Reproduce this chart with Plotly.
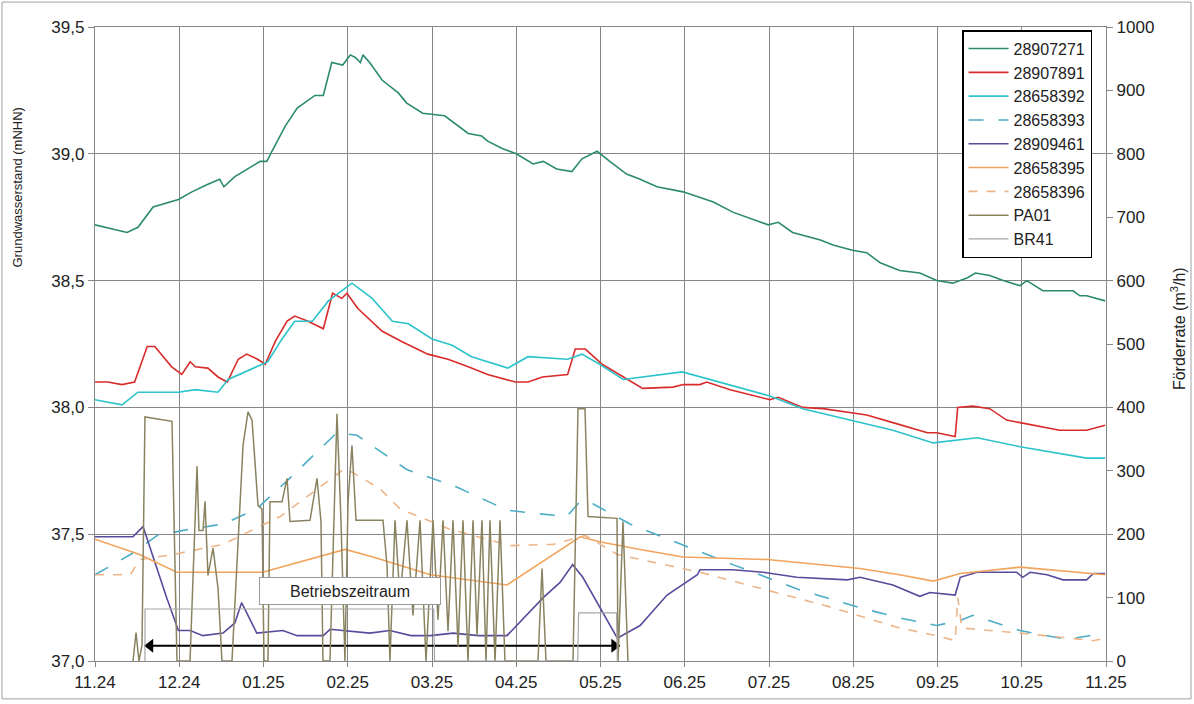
import plotly.graph_objects as go

# Monatsachse: 0 = 11.24 ... 12 = 11.25
monat_ticks = list(range(13))
monat_labels = ["11.24", "12.24", "01.25", "02.25", "03.25", "04.25", "05.25",
                "06.25", "07.25", "08.25", "09.25", "10.25", "11.25"]

# Grundwasserstände (mNHN)
m_28907271 = [0.00, 0.38, 0.51, 0.69, 0.99, 1.15, 1.34, 1.48, 1.53, 1.66, 1.96, 2.04, 2.10,
              2.26, 2.40, 2.61, 2.71, 2.81, 2.94, 3.03, 3.09, 3.15, 3.18, 3.26, 3.41, 3.60,
              3.70, 3.89, 4.15, 4.43, 4.59, 4.66, 4.84, 5.00, 5.20, 5.32, 5.48, 5.66, 5.78,
              5.96, 6.11, 6.31, 6.47, 6.67, 6.98, 7.34, 7.57, 7.81, 7.99, 8.11, 8.28, 8.61,
              8.76, 8.99, 9.16, 9.32, 9.55, 9.79, 9.99, 10.18, 10.35, 10.45, 10.62, 10.78,
              10.98, 11.06, 11.25, 11.45, 11.61, 11.69, 11.77, 11.99]
gw_28907271 = [38.72, 38.69, 38.71, 38.79, 38.82, 38.85, 38.88, 38.90, 38.87, 38.91, 38.97,
               38.97, 39.01, 39.11, 39.18, 39.23, 39.23, 39.36, 39.35, 39.39, 39.38, 39.36,
               39.39, 39.36, 39.29, 39.24, 39.20, 39.16, 39.15, 39.08, 39.07, 39.05, 39.02,
               39.00, 38.96, 38.97, 38.94, 38.93, 38.98, 39.01, 38.97, 38.92, 38.90, 38.87,
               38.85, 38.81, 38.77, 38.74, 38.72, 38.73, 38.69, 38.66, 38.64, 38.62, 38.61,
               38.57, 38.54, 38.53, 38.50, 38.49, 38.51, 38.53, 38.52, 38.50, 38.48, 38.50,
               38.46, 38.46, 38.46, 38.44, 38.44, 38.42]

m_28907891 = [0.00, 0.15, 0.32, 0.47, 0.62, 0.71, 0.91, 1.03, 1.13, 1.19, 1.34, 1.46, 1.57,
              1.70, 1.80, 1.93, 2.02, 2.14, 2.28, 2.37, 2.53, 2.71, 2.82, 2.93, 2.99, 3.12,
              3.41, 3.64, 3.95, 4.19, 4.43, 4.66, 4.99, 5.14, 5.31, 5.61, 5.70, 5.82, 6.02,
              6.27, 6.50, 6.86, 6.98, 7.18, 7.26, 7.54, 8.01, 8.11, 8.40, 8.64, 8.96, 9.16,
              9.47, 9.88, 9.99, 10.21, 10.24, 10.42, 10.62, 10.82, 10.98, 11.13, 11.45,
              11.77, 11.99]
gw_28907891 = [38.10, 38.10, 38.09, 38.10, 38.24, 38.24, 38.16, 38.13, 38.18, 38.16, 38.155,
               38.12, 38.10, 38.19, 38.21, 38.19, 38.17, 38.26, 38.34, 38.36, 38.34, 38.31,
               38.45, 38.43, 38.45, 38.39, 38.30, 38.26, 38.21, 38.19, 38.16, 38.13, 38.10,
               38.10, 38.12, 38.13, 38.23, 38.23, 38.17, 38.12, 38.075, 38.08, 38.09, 38.09,
               38.10, 38.07, 38.03, 38.04, 38.00, 37.995, 37.98, 37.97, 37.94, 37.90, 37.90,
               37.885, 38.00, 38.005, 37.995, 37.95, 37.94, 37.93, 37.91, 37.91, 37.93]

m_28658392 = [0.00, 0.32, 0.51, 0.99, 1.19, 1.46, 1.58, 2.05, 2.22, 2.37, 2.58, 2.77, 3.05,
              3.29, 3.53, 3.72, 4.00, 4.24, 4.47, 4.90, 5.14, 5.61, 5.78, 5.99, 6.27, 6.97,
              8.01, 8.40, 8.96, 9.47, 9.95, 10.47, 10.98, 11.77, 11.99]
gw_28658392 = [38.03, 38.01, 38.06, 38.06, 38.07, 38.06, 38.11, 38.18, 38.27, 38.34, 38.34,
               38.42, 38.49, 38.43, 38.34, 38.33, 38.27, 38.245, 38.20, 38.155, 38.20, 38.19,
               38.21, 38.17, 38.11, 38.14, 38.045, 37.995, 37.95, 37.91, 37.86, 37.88, 37.845,
               37.80, 37.80]

m_28658393 = [0.00, 0.42, 0.74, 1.13, 1.52, 1.92, 2.31, 2.87, 3.11, 3.70, 4.30, 4.89, 5.28,
              5.60, 5.76, 5.91, 6.35, 7.10, 7.57, 8.37, 9.08, 9.55, 9.99, 10.27, 10.42, 10.98,
              11.54, 11.99]
gw_28658393 = [37.34, 37.42, 37.495, 37.52, 37.54, 37.60, 37.72, 37.90, 37.89, 37.755, 37.685,
               37.595, 37.58, 37.57, 37.63, 37.62, 37.54, 37.44, 37.38, 37.28, 37.21, 37.17,
               37.14, 37.16, 37.18, 37.12, 37.085, 37.11]

m_28909461 = [0.00, 0.45, 0.57, 0.85, 0.99, 1.13, 1.28, 1.52, 1.66, 1.74, 1.92, 2.23, 2.40,
              2.71, 2.79, 2.97, 3.26, 3.50, 3.75, 3.98, 4.25, 4.55, 4.89, 5.32, 5.52, 5.67,
              5.79, 6.20, 6.31, 6.47, 6.79, 7.15, 7.18, 7.57, 7.93, 8.33, 8.93, 9.08, 9.47,
              9.79, 9.91, 10.21, 10.27, 10.47, 10.94, 11.01, 11.10, 11.30, 11.49, 11.77,
              11.85, 11.99]
gw_28909461 = [37.49, 37.49, 37.53, 37.25, 37.12, 37.12, 37.10, 37.11, 37.15, 37.23, 37.11,
               37.12, 37.10, 37.10, 37.125, 37.12, 37.11, 37.12, 37.10, 37.10, 37.11, 37.10,
               37.10, 37.25, 37.31, 37.38, 37.33, 37.09, 37.11, 37.14, 37.26, 37.34, 37.36,
               37.36, 37.35, 37.33, 37.32, 37.33, 37.30, 37.255, 37.27, 37.26, 37.33, 37.35,
               37.35, 37.33, 37.35, 37.34, 37.32, 37.32, 37.345, 37.345]

m_28658395 = [0.00, 0.53, 0.97, 1.99, 2.97, 3.30, 3.98, 4.89, 5.76, 5.99, 6.47, 6.98, 7.98,
              9.08, 9.55, 9.95, 10.27, 10.98, 11.99]
gw_28658395 = [37.48, 37.42, 37.35, 37.35, 37.44, 37.41, 37.34, 37.30, 37.49, 37.47, 37.44,
               37.41, 37.40, 37.365, 37.34, 37.315, 37.345, 37.37, 37.34]

m_28658396 = [0.00, 0.42, 0.53, 0.93, 1.52, 2.20, 2.97, 3.38, 3.62, 4.21, 4.93, 5.44, 5.82,
              6.20, 7.18, 7.98, 8.76, 9.55, 9.99, 10.21, 10.24, 10.29, 10.98, 11.85, 11.99]
gw_28658396 = [37.34, 37.34, 37.40, 37.42, 37.46, 37.57, 37.76, 37.68, 37.60, 37.52, 37.455,
               37.46, 37.495, 37.42, 37.35, 37.28, 37.21, 37.13, 37.10, 37.08, 37.25, 37.13,
               37.11, 37.08, 37.09]

# Förderraten (m³/h)
m_pa01 = [0.451, 0.487, 0.522, 0.558, 0.593, 0.914, 0.973, 1.128, 1.211, 1.234, 1.282, 1.306,
          1.341, 1.401, 1.460, 1.507, 1.626, 1.757, 1.816, 1.864, 1.935, 1.982, 2.006, 2.053,
          2.077, 2.220, 2.279, 2.315, 2.552, 2.635, 2.682, 2.706, 2.789, 2.872, 2.920, 2.967,
          3.003, 3.050, 3.098, 3.418, 3.466, 3.501, 3.561, 3.620, 3.703, 3.774, 3.858, 3.929,
          4.012, 4.071, 4.131, 4.190, 4.249, 4.309, 4.368, 4.427, 4.487, 4.534, 4.593, 4.641,
          4.688, 4.748, 4.807, 4.866, 5.258, 5.306, 5.353, 5.674, 5.733, 5.816, 5.852, 6.196,
          6.208, 6.267, 6.326]
q_pa01 = [0, 45, 0, 25, 385, 378, 0, 0, 307, 206, 206, 252,
          135, 178, 115, 0, 0, 340, 393, 380, 245, 240, 0, 0,
          251, 251, 288, 220, 222, 288, 220, 0, 0, 390, 220, 0,
          250, 340, 222, 222, 151, 0, 222, 99, 222, 72, 222, 0,
          222, 65, 222, 47, 222, 23, 222, 0, 222, 40, 222, 0,
          222, 0, 222, 0, 0, 146, 0, 0, 398, 398, 228, 225,
          0, 220, 0]

m_br41 = [0.593, 0.594, 1.49, 4.02, 4.03, 5.73, 5.74, 6.19, 6.20]
q_br41 = [0, 82, 82, 82, 0, 0, 76, 76, 0]

# Betriebszeitraum (Beginn / Ende in Monaten ab 11.24)
betrieb_von, betrieb_bis = 0.59, 6.23

serien = [
    ("28907271", m_28907271, gw_28907271, "#2B8A70", "solid", 1.6),
    ("28907891", m_28907891, gw_28907891, "#D92B2B", "solid", 1.6),
    ("28658392", m_28658392, gw_28658392, "#2CC3CB", "solid", 1.6),
    ("28658393", m_28658393, gw_28658393, "#4BACC6", "longdash", 1.6),
    ("28909461", m_28909461, gw_28909461, "#5A4A9C", "solid", 1.6),
    ("28658395", m_28658395, gw_28658395, "#F2A45C", "solid", 1.6),
    ("28658396", m_28658396, gw_28658396, "#EDB68A", "dash", 1.6),
]

fig = go.Figure()
for name, xs, ys, col, dash, w in serien:
    fig.add_trace(go.Scatter(x=xs, y=ys, name=name, mode="lines",
                             line=dict(color=col, width=w, dash=dash)))

fig.add_trace(go.Scatter(x=m_pa01, y=q_pa01, name="PA01", mode="lines", yaxis="y2",
                         line=dict(color="#8A8360", width=1.5)))
fig.add_trace(go.Scatter(x=m_br41, y=q_br41, name="BR41", mode="lines", yaxis="y2",
                         line=dict(color="#A6A6A6", width=1.2)))

# Doppelpfeil für den Betriebszeitraum
pfeil_y = 37.06
spitze = 0.065  # halbe Pfeilspitzenlänge in Monaten
fig.add_trace(go.Scatter(x=[betrieb_von, betrieb_bis], y=[pfeil_y, pfeil_y], mode="lines",
                         line=dict(color="#000000", width=2), showlegend=False,
                         hoverinfo="skip"))
fig.add_trace(go.Scatter(x=[betrieb_von + spitze, betrieb_bis - spitze], y=[pfeil_y, pfeil_y],
                         mode="markers", showlegend=False, hoverinfo="skip",
                         marker=dict(symbol=["triangle-left", "triangle-right"], size=12,
                                     color="#000000", line=dict(width=0))))

grid = "#868686"
txt = "#222222"
tickfont = dict(family="Liberation Sans", size=17, color=txt)

fig.update_layout(
    width=1194, height=704,
    margin=dict(l=95, r=88, t=27, b=41),
    paper_bgcolor="white", plot_bgcolor="white",
    separators=",.",
    font=dict(family="Liberation Sans", color=txt),
    showlegend=True,
    legend=dict(x=0.8576, y=0.995, xanchor="left", yanchor="top",
                bgcolor="white", bordercolor="#000000", borderwidth=1.5,
                font=dict(family="Liberation Sans", size=16, color=txt),
                itemwidth=40, tracegroupgap=0),
    xaxis=dict(range=[0, 12], tickmode="array", tickvals=monat_ticks, ticktext=monat_labels,
               showgrid=True, gridcolor=grid, gridwidth=1.3, zeroline=False,
               showline=True, linecolor=grid, linewidth=1.3, mirror=True,
               ticks="outside", ticklen=5, tickcolor=grid, tickfont=tickfont),
    yaxis=dict(range=[37.0, 39.5], dtick=0.5, tickformat=".1f",
               showgrid=True, gridcolor=grid, gridwidth=1.3, zeroline=False,
               showline=True, linecolor=grid, linewidth=1.3,
               ticks="outside", ticklen=6, tickcolor=grid, tickfont=tickfont),
    yaxis2=dict(range=[0, 1000], dtick=100, overlaying="y", side="right",
                showgrid=False, zeroline=False,
                showline=True, linecolor=grid, linewidth=1.3,
                ticks="outside", ticklen=6, tickcolor=grid, tickfont=tickfont),
)

# Achsentitel
fig.add_annotation(text="Grundwasserstand (mNHN)", xref="paper", yref="paper",
                   x=(17 - 95) / 1011, y=(663 - 188) / 636, xanchor="center",
                   yanchor="middle", textangle=-90, showarrow=False,
                   font=dict(family="Liberation Sans", size=13, color=txt))
fig.add_annotation(text="Förderrate (m<sup>3</sup>/h)", xref="paper", yref="paper",
                   x=(1178 - 95) / 1011, y=(663 - 330) / 636, xanchor="center",
                   yanchor="middle", textangle=-90, showarrow=False,
                   font=dict(family="Liberation Sans", size=16, color=txt))

# Textfeld Betriebszeitraum
fig.add_annotation(x=(betrieb_von + betrieb_bis) / 2 - 0.38, y=37.275, xref="x", yref="y",
                   text="Betriebszeitraum", showarrow=False, width=178, height=24,
                   bgcolor="white", bordercolor="#9A9A9A", borderwidth=1, borderpad=1,
                   font=dict(family="Liberation Sans", size=16, color=txt))

# Rahmen um die gesamte Grafik
fig.add_shape(type="rect", xref="paper", yref="paper",
              x0=(2 - 95) / 1011, x1=(1191 - 95) / 1011,
              y0=(663 - 701) / 636, y1=(663 - 2) / 636,
              line=dict(color="#A0A0A0", width=1), fillcolor="rgba(0,0,0,0)", layer="below")

fig.write_html("out.html")
